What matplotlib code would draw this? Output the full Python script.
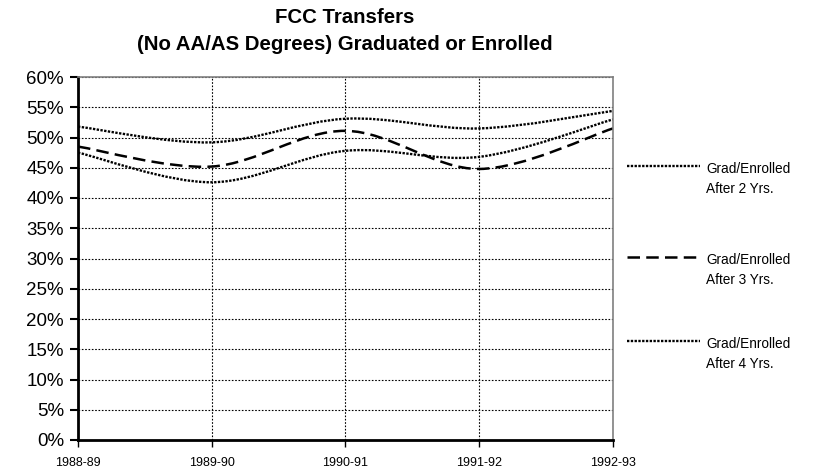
import matplotlib
matplotlib.use("Agg")
import matplotlib.pyplot as plt
from matplotlib.path import Path
from matplotlib.patches import PathPatch
import numpy as np

categories = ["1988-89", "1989-90", "1990-91", "1991-92", "1992-93"]
after2 = [51.8, 49.2, 53.1, 51.5, 54.4]
after3 = [48.5, 45.2, 51.1, 44.8, 51.5]
after4 = [47.5, 42.6, 47.8, 46.8, 53.0]
series_labels = ["Grad/Enrolled\nAfter 2 Yrs.", "Grad/Enrolled\nAfter 3 Yrs.", "Grad/Enrolled\nAfter 4 Yrs."]
legend_levels = [45.3, 30.2, 16.4]
yticks = list(range(0, 61, 5))
title = "FCC Transfers\n(No AA/AS Degrees) Graduated or Enrolled"

plt.rcParams['font.family'] = ['Liberation Sans', 'DejaVu Sans']

fig = plt.figure(figsize=(8.18, 4.72), dpi=100)
ax = fig.add_axes([78/818, 1-440/472, (613-78)/818, (440-77)/472])


def smooth_path(xs, ys):
    pts = np.column_stack([xs, ys]).astype(float)
    n = len(pts)
    verts = [pts[0]]
    codes = [Path.MOVETO]
    for i in range(n - 1):
        p0 = pts[i - 1] if i > 0 else pts[i]
        p1 = pts[i]
        p2 = pts[i + 1]
        p3 = pts[i + 2] if i + 2 < n else pts[i + 1]
        c1 = p1 + (p2 - p0) / 6.0
        c2 = p2 - (p3 - p1) / 6.0
        verts += [c1, c2, p2]
        codes += [Path.CURVE4] * 3
    return Path(verts, codes)


x = np.arange(len(categories))
styles = [
    dict(linestyle=(0, (1.0, 0.6)), linewidth=1.7),
    dict(linestyle=(0, (5, 2.5)), linewidth=1.8),
    dict(linestyle=(0, (1.0, 0.6)), linewidth=1.7),
]
for ys, st in zip([after2, after3, after4], styles):
    patch = PathPatch(smooth_path(x, ys), facecolor='none', edgecolor='black',
                      capstyle='butt', **st)
    ax.add_patch(patch)

ax.set_xlim(0, len(categories) - 1)
ax.set_ylim(0, 60)
ax.set_yticks(yticks)
ax.set_yticklabels([f"{v}%" for v in yticks], fontsize=13.5)
ax.set_xticks(x)
ax.set_xticklabels(categories, fontsize=9)

ax.grid(True, color='black', linestyle=(0, (1.5, 1.5)), linewidth=0.8)
ax.set_axisbelow(True)
ax.tick_params(axis='y', direction='out', length=6, width=1.5, pad=4)
ax.tick_params(axis='x', direction='out', length=5, width=1, pad=7)

for side in ['top', 'right']:
    ax.spines[side].set_color('#808080')
    ax.spines[side].set_linewidth(1.2)
ax.spines['left'].set_linewidth(2)
ax.spines['bottom'].set_linewidth(2)

fig.text(345/818, 1-31/472, title, ha='center', va='center', fontsize=14.7,
         fontweight='bold', linespacing=1.55)

# legend (manual, outside right)
for ly, lab, st in zip(legend_levels, series_labels, styles):
    yfig = ax.transAxes.inverted().transform(ax.transData.transform((0, ly)))[1]
    yfig = ax.get_position().y0 + yfig * ax.get_position().height
    fig.add_artist(plt.Line2D([627/818, 700/818], [yfig, yfig], color='black', **st))
    fig.text(706/818, yfig + 4/472, lab, ha='left', va='top', fontsize=9.8,
             linespacing=1.55)

fig.savefig("out.png", dpi=100)
